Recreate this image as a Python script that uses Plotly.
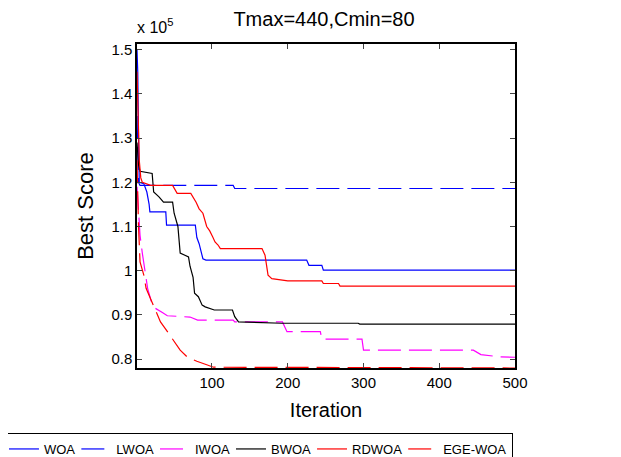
import plotly.graph_objects as go

# Values in units of 10^5
woa_x = [1, 2, 3, 4, 10, 14, 17, 18, 39, 40, 78, 80, 83, 86, 88, 92, 225, 228, 245, 247, 500]
woa_y = [1.50, 1.45, 1.30, 1.20, 1.197, 1.178, 1.15, 1.133, 1.133, 1.103, 1.103, 1.075, 1.061, 1.04, 1.027, 1.024, 1.024, 1.012, 1.012, 1.001, 1.001]

lwoa_x = [1, 2, 3, 5, 128, 130, 500]
lwoa_y = [1.35, 1.25, 1.20, 1.193, 1.193, 1.186, 1.186]

iwoa_x = [1, 3, 5, 8, 15, 20, 25, 35, 41, 71, 81, 128, 130, 193, 199, 243, 245, 298, 300, 445, 455, 480, 500]
iwoa_y = [1.19, 1.12, 1.08, 1.04, 0.96, 0.93, 0.915, 0.905, 0.898, 0.895, 0.888, 0.888, 0.884, 0.884, 0.862, 0.862, 0.845, 0.845, 0.82, 0.82, 0.81, 0.805, 0.804]

bwoa_x = [1, 3, 5, 21, 23, 30, 36, 48, 50, 55, 58, 69, 71, 75, 77, 82, 87, 91, 103, 127, 130, 135, 192, 293, 295, 500]
bwoa_y = [1.29, 1.24, 1.225, 1.22, 1.178, 1.167, 1.155, 1.155, 1.13, 1.10, 1.04, 1.031, 1.01, 0.985, 0.949, 0.941, 0.922, 0.918, 0.911, 0.911, 0.896, 0.884, 0.881, 0.881, 0.879, 0.879]

rdwoa_x = [1, 2, 3, 4, 6, 8, 19, 48, 50, 54, 72, 75, 79, 83, 88, 93, 97, 101, 104, 108, 111, 166, 170, 174, 179, 200, 245, 247, 267, 269, 500]
rdwoa_y = [1.45, 1.40, 1.32, 1.25, 1.21, 1.20, 1.193, 1.193, 1.186, 1.175, 1.175, 1.167, 1.155, 1.14, 1.13, 1.10, 1.09, 1.076, 1.065, 1.058, 1.05, 1.05, 1.035, 0.99, 0.982, 0.977, 0.977, 0.971, 0.971, 0.965, 0.965]

ege_x = [1, 2, 3, 5, 10, 13, 18, 22, 27, 32, 40, 50, 58, 67, 80, 93, 102, 500]
ege_y = [1.25, 1.15, 1.10, 1.02, 0.99, 0.96, 0.94, 0.92, 0.90, 0.884, 0.865, 0.84, 0.82, 0.805, 0.795, 0.787, 0.7815, 0.7797]

names = ["WOA", "LWOA", "IWOA", "BWOA", "RDWOA", "EGE-WOA"]
xtick_vals = [100, 200, 300, 400, 500]
ytick_vals = [0.8, 0.9, 1.0, 1.1, 1.2, 1.3, 1.4, 1.5]
ytick_text = ["0.8", "0.9", "1", "1.1", "1.2", "1.3", "1.4", "1.5"]

DASH = "23px,8px"
series = [
    (woa_x, woa_y, "#0000FF", "solid"),
    (lwoa_x, lwoa_y, "#0000FF", DASH),
    (iwoa_x, iwoa_y, "#FF00FF", DASH),
    (bwoa_x, bwoa_y, "#000000", "solid"),
    (rdwoa_x, rdwoa_y, "#FF0000", "solid"),
    (ege_x, ege_y, "#FF0000", DASH),
]

fig = go.Figure()
for (x, y, c, d), n in zip(series, names):
    fig.add_trace(go.Scatter(x=x, y=y, mode="lines", name=n,
                             line=dict(color=c, width=1.2, dash=d)))

# The page body has an 8px margin, so the figure is 8px smaller than the window
FONT = "Liberation Sans, Arial, sans-serif"
fig.update_layout(
    width=613, height=449,
    margin=dict(l=129, r=106, t=36, b=89, autoexpand=False),
    paper_bgcolor="white", plot_bgcolor="white",
    font=dict(family=FONT, color="black", size=15),
    title=dict(text="Tmax=440,Cmin=80", x=0.5155, xanchor="center",
               y=0.9755, yanchor="middle", font=dict(size=20, family=FONT)),
    showlegend=True,
    legend=dict(orientation="h", x=-0.344, y=-0.2006, xanchor="left", yanchor="top",
                bordercolor="black", borderwidth=1, font=dict(size=13, family=FONT),
                itemwidth=30, indentation=-4, tracegroupgap=0, bgcolor="white"),
    annotations=[dict(text="x 10<sup>5</sup>", xref="paper", yref="paper",
                      x=0, y=1.0, xanchor="left", yanchor="bottom", showarrow=False,
                      font=dict(size=16, family=FONT), yshift=6, xshift=-2)],
)
fig.update_xaxes(range=[1, 500], tickvals=xtick_vals, ticks="inside", ticklen=5,
                 showline=True, linecolor="black", linewidth=1.5, mirror="allticks",
                 showgrid=False, zeroline=False, automargin=False,
                 title=dict(text="Iteration", font=dict(size=20, family=FONT), standoff=13))
fig.update_yaxes(range=[0.7797, 1.513], tickvals=ytick_vals, ticktext=ytick_text,
                 ticks="inside", ticklen=5,
                 showline=True, linecolor="black", linewidth=1.5, mirror="allticks",
                 showgrid=False, zeroline=False, automargin=False,
                 title=dict(text="Best Score", font=dict(size=22, family=FONT), standoff=12))

fig.write_html("out.html")
